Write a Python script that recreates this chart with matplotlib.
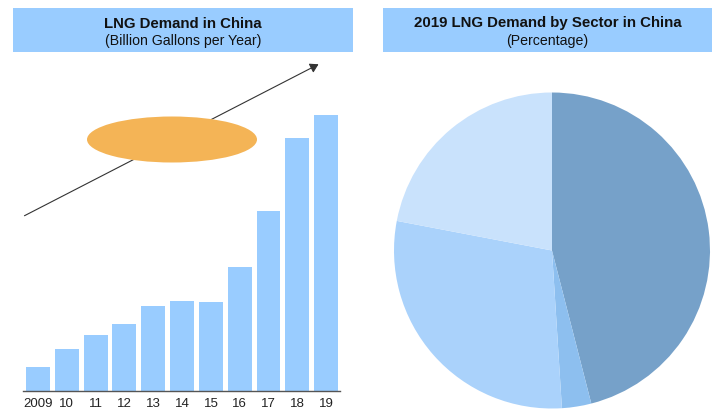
import matplotlib
matplotlib.use("Agg")
import matplotlib.pyplot as plt
from matplotlib.patches import Ellipse, FancyArrowPatch, Rectangle
import numpy as np

plt.rcParams["font.family"] = ["Liberation Sans", "DejaVu Sans"]

# bar chart data (relative heights)
years = ["2009", "10", "11", "12", "13", "14", "15", "16", "17", "18", "19"]
demand = [2.4, 4.2, 5.6, 6.7, 8.5, 9.0, 8.9, 12.4, 18.0, 25.3, 27.6]

# pie data, clockwise from 12 o'clock
sector_share = [46, 3, 29, 22]
sector_colors = ["#76A1C9", "#8DBFEF", "#AAD2FB", "#C9E2FC"]

BAR_COL = "#99CCFF"
HEAD_COL = "#99CCFF"
W, H = 716, 413


def px(x, y):
    # top-left pixel -> figure fraction
    return x / W, (H - y) / H


fig = plt.figure(figsize=(7.16, 4.13), dpi=100)

# ---- header boxes
for x0, x1, title, sub in [(13, 353, "LNG Demand in China", "(Billion Gallons per Year)"),
                           (383, 712, "2019 LNG Demand by Sector in China", "(Percentage)")]:
    fx, fy = px(x0, 52)
    fig.add_artist(Rectangle((fx, fy), (x1 - x0) / W, 44 / H, transform=fig.transFigure,
                             facecolor=HEAD_COL, edgecolor="none", zorder=0))
    cx = (x0 + x1) / 2 / W
    fig.text(cx, px(0, 23.5)[1], title, ha="center", va="center", fontsize=10.8,
             fontweight="bold", color="#111111")
    fig.text(cx, px(0, 41.5)[1], sub, ha="center", va="center", fontsize=10.2, color="#111111")

# ---- bars
ax = fig.add_axes([23 / W, 22 / H, 317 / W, 300 / H])
x = np.arange(len(years))
ax.bar(x, demand, width=0.83, color=BAR_COL, edgecolor="none")
ax.set_xlim(-0.52, 10.48)
ax.set_ylim(0, 30)
ax.set_xticks(x)
ax.set_xticklabels(years, fontsize=9.5, color="#222222")
ax.tick_params(axis="x", length=0, pad=5)
ax.set_yticks([])
for s in ["top", "right", "left"]:
    ax.spines[s].set_visible(False)
ax.spines["bottom"].set_color("#555555")
ax.spines["bottom"].set_linewidth(1)
ax.patch.set_alpha(0)

# trend arrow and callout ellipse
arr = FancyArrowPatch(px(22, 217), px(321, 63), transform=fig.transFigure,
                      arrowstyle="-|>,head_length=5,head_width=3", color="#333333",
                      lw=0.8, zorder=3)
fig.add_artist(arr)
fig.add_artist(Ellipse(px(172, 139.5), 170 / W, 46 / H, transform=fig.transFigure,
                       facecolor="#F4B456", edgecolor="none", zorder=4))

# ---- pie
r = 160
ax2 = fig.add_axes([(552 - r) / W, (H - 250.5 - r) / H, 2 * r / W, 2 * r / H])
ax2.pie(sector_share, colors=sector_colors, startangle=90, counterclock=False,
        wedgeprops={"linewidth": 0})
lim = r / 158
ax2.set_xlim(-lim, lim)
ax2.set_ylim(-lim, lim)
ax2.set_aspect("auto")
ax2.axis("off")

fig.savefig("out.png", dpi=100)
